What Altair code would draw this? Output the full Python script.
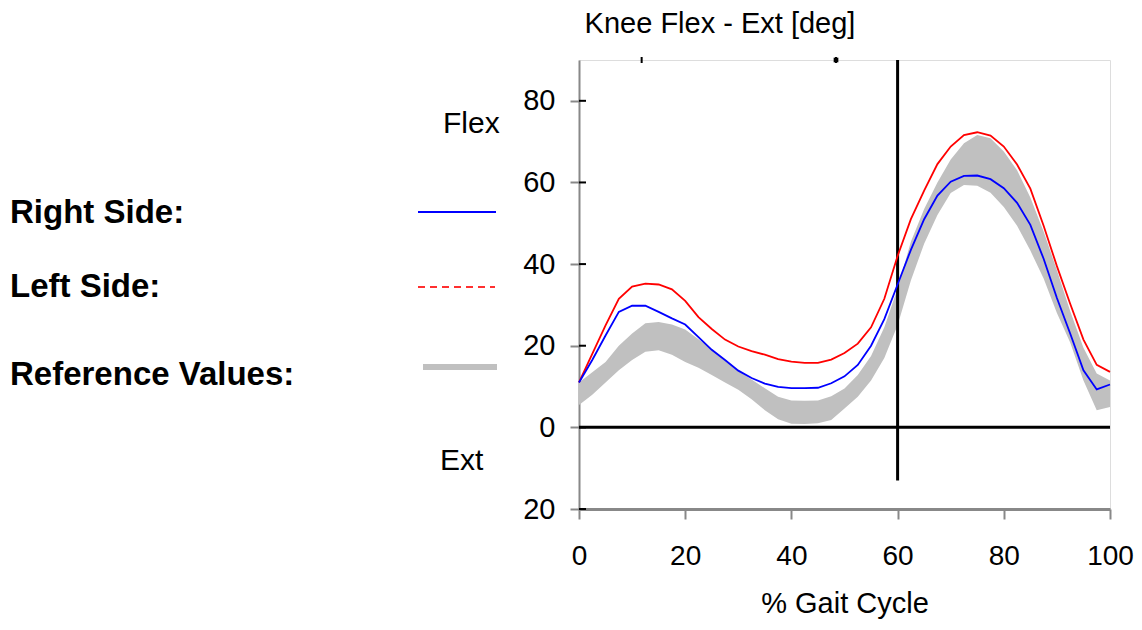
import altair as alt
import pandas as pd

# ---------------- data ----------------
gait_pct = [0, 2.5, 5, 7.5, 10, 12.5, 15, 17.5, 20, 22.5, 25, 27.5, 30, 32.5, 35, 37.5,
            40, 42.5, 45, 47.5, 50, 52.5, 55, 57.5, 60, 62.5, 65, 67.5, 70, 72.5, 75,
            77.5, 80, 82.5, 85, 87.5, 90, 92.5, 95, 97.5, 100]

right_side = [11, 16.5, 22.5, 28.3, 29.8, 29.8, 28.3, 26.7, 25.2, 22.1, 19, 16.5, 13.9,
              12.1, 10.7, 9.9, 9.6, 9.6, 9.7, 10.8, 12.5, 15.3, 20, 26.5, 35, 43.5, 51,
              56.8, 60.2, 61.6, 61.7, 60.8, 58.6, 55, 49.6, 41.3, 31.7, 23, 14, 9.3, 10.5]

left_side = [11, 18, 25, 31.5, 34.5, 35.2, 35, 33.8, 31, 27, 24.1, 21.5, 19.8, 18.7,
             17.8, 16.7, 16.1, 15.8, 15.8, 16.6, 18.2, 20.5, 24.5, 31.5, 42, 51, 58,
             64.5, 68.8, 71.6, 72.3, 71.5, 68.8, 64.4, 58.5, 49.4, 39.5, 30.3, 21.5,
             15.3, 13.6]

ref_upper = [11, 13.5, 16, 20, 23, 25.5, 25.8, 25.2, 24, 21.6, 19.2, 16.4, 13.8, 11.7,
             9.6, 7.5, 6.6, 6.5, 6.6, 7.6, 9.5, 12.8, 17.5, 24.5, 34, 45.5, 53.5, 60,
             65.6, 69.6, 71.6, 70.8, 67.6, 63, 56.3, 48, 38.5, 28.5, 19.5, 13.2, 11.5]

ref_lower = [5.5, 8, 11, 14, 16.5, 18.5, 18.9, 17.8, 16, 14.6, 12.8, 11, 9.2, 6.9, 4.2,
             2, 0.9, 0.8, 1, 1.8, 4.6, 7.5, 11.5, 17, 25, 36, 45, 52, 57.4, 59.4, 59.2,
             57.5, 54, 49.4, 43.3, 36.5, 28, 20.8, 11.5, 4.2, 5]

x_ticks = [0, 20, 40, 60, 80, 100]
y_ticks = [-20, 0, 20, 40, 60, 80]
event_marks = [11.8, 48.4]
toe_off = 60
toe_off_bottom = -13

title_text = "Knee Flex - Ext [deg]"
x_title = "% Gait Cycle"
legend_labels = ["Right Side:", "Left Side:", "Reference Values:"]
flex_label = "Flex"
ext_label = "Ext"

# ---------------- chart ----------------
FONT = "Liberation Sans"
W, H = 531, 449

df = pd.DataFrame({"pct": gait_pct, "right": right_side, "left": left_side,
                   "hi": ref_upper, "lo": ref_lower})

xs = alt.Scale(domain=[0, 100], nice=False, zero=False)
ys = alt.Scale(domain=[-20, 90], nice=False, zero=False)

x_axis = alt.Axis(values=x_ticks, grid=False, tickSize=10, tickWidth=2, domainWidth=3,
                  labelFont=FONT, labelFontSize=28, labelPadding=23,
                  titleFont=FONT, titleFontSize=29, titleFontWeight="normal",
                  titlePadding=19, labelFlush=False)
y_axis = alt.Axis(values=y_ticks, grid=False, tickSize=9, tickWidth=2, domainWidth=2,
                  labelFont=FONT, labelFontSize=29, labelPadding=15,
                  labelExpr="abs(datum.value)", labelFlush=False)

X = lambda f: alt.X(f, scale=xs, axis=x_axis, title=x_title)
Y = lambda f: alt.Y(f, scale=ys, axis=y_axis, title="")

band = alt.Chart(df).mark_area(color="#c0c0c0", interpolate="linear").encode(
    x=X("pct:Q"), y=Y("lo:Q"), y2="hi:Q")

zero_line = alt.Chart(pd.DataFrame({"v": [0]})).mark_rule(color="black", strokeWidth=3).encode(
    y=Y("v:Q"))

toe_line = alt.Chart(pd.DataFrame({"x": [toe_off], "y1": [90], "y2": [toe_off_bottom]})).mark_rule(
    color="black", strokeWidth=3).encode(x=X("x:Q"), y=Y("y1:Q"), y2="y2:Q")

left_line = alt.Chart(df).mark_line(color="#ff0000", strokeWidth=1.8).encode(
    x=X("pct:Q"), y=Y("left:Q"))
right_line = alt.Chart(df).mark_line(color="#0000ff", strokeWidth=1.8).encode(
    x=X("pct:Q"), y=Y("right:Q"))

y_stubs = alt.Chart(pd.DataFrame({"v": y_ticks})).mark_rule(color="black", strokeWidth=2).encode(
    y=Y("v:Q"), x=alt.value(0), x2=alt.value(7))

ev = pd.DataFrame({"x": event_marks})
event_ticks = alt.Chart(ev).mark_rule(color="black", strokeWidth=2).encode(
    x=X("x:Q"), y=alt.value(-3), y2=alt.value(3))
event_dot = alt.Chart(ev.iloc[[1]]).mark_square(color="black", size=22, opacity=1).encode(
    x=X("x:Q"), y=alt.value(0))

one = pd.DataFrame({"t": [0]})

def txt(s, x, y, size, align="left", weight="normal"):
    return alt.Chart(one).mark_text(text=s, align=align, baseline="alphabetic",
                                    font=FONT, fontSize=size, fontWeight=weight,
                                    color="black").encode(
        x=alt.value(x), y=alt.value(y))

def seg(x1, x2, y, color, width, dash=None):
    kw = dict(color=color, strokeWidth=width)
    if dash:
        kw["strokeDash"] = dash
    return alt.Chart(one).mark_rule(**kw).encode(x=alt.value(x1), x2=alt.value(x2), y=alt.value(y))

annots = [
    txt(title_text, 141, -27, 29, align="center"),
    txt(flex_label, -136, 73, 30),
    txt(ext_label, -139, 410, 30),
    txt(legend_labels[0], -569, 163, 33, weight="bold"),
    txt(legend_labels[1], -569, 237, 33, weight="bold"),
    txt(legend_labels[2], -569, 325, 33, weight="bold"),
    seg(-161, -83, 152, "#0000ff", 2),
    seg(-161, -84, 227, "#ff3030", 2, [7, 5]),
    seg(-156, -82, 307, "#c0c0c0", 6),
]

chart = alt.layer(band, zero_line, toe_line, left_line, right_line, y_stubs,
                  event_ticks, event_dot, *annots).properties(
    width=W, height=H,
    autosize=alt.AutoSizeParams(type="none"),
    padding={"left": 571, "top": 52, "right": 24, "bottom": 112},
).configure_view(stroke="black", strokeWidth=2).configure_axis(
    domainColor="black", tickColor="black", labelColor="black", titleColor="black"
).configure(background="white")

chart.save("out.html", embed_options={"renderer": "svg", "actions": False})
